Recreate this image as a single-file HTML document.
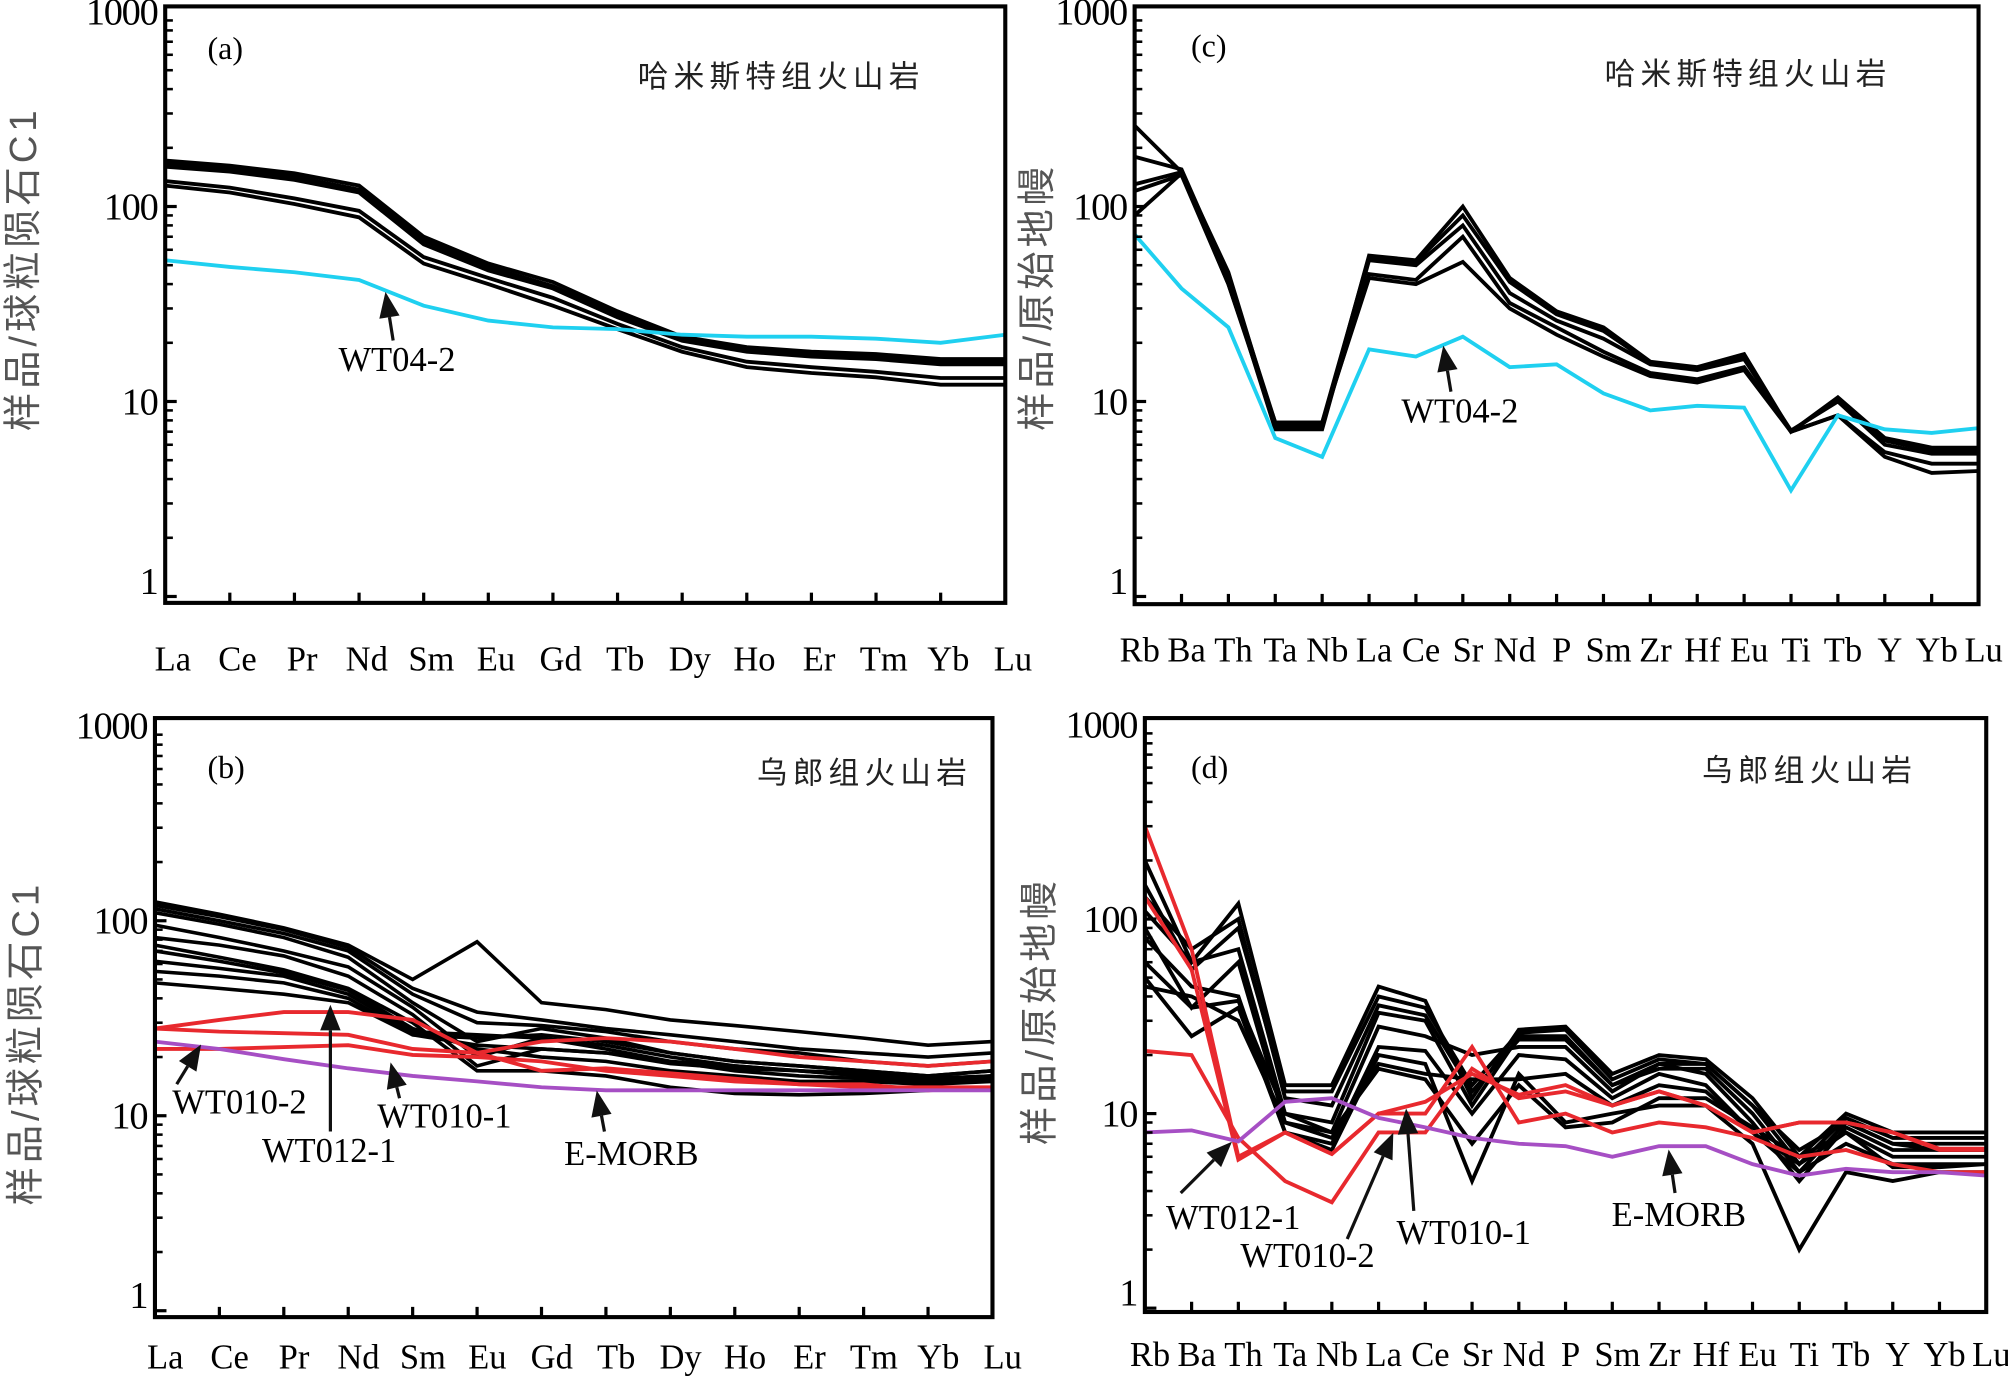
<!DOCTYPE html>
<html><head><meta charset="utf-8"><style>
html,body{margin:0;padding:0;background:#fff;}
svg{display:block;}
text{font-family:"Liberation Serif","Noto Serif CJK SC",serif;}
.cjk{font-family:"Liberation Sans","Noto Sans CJK SC",sans-serif;}
</style></head><body>
<svg id="fig" xmlns="http://www.w3.org/2000/svg" width="2008" height="1376" viewBox="0 0 1568 1075" preserveAspectRatio="none"></svg>
<script>
const reeLabels=["La","Ce","Pr","Nd","Sm","Eu","Gd","Tb","Dy","Ho","Er","Tm","Yb","Lu"];
const pmLabels=["Rb","Ba","Th","Ta","Nb","La","Ce","Sr","Nd","P","Sm","Zr","Hf","Eu","Ti","Tb","Y","Yb","Lu"];
const yTickLabels=["1","10","100","1000"];
const aBlack=[
[172,162,148,128,70,51,41,29,21.5,19,18,17.5,16.5,16.5],
[166,156,142,122,67,49,39,28,21,18.5,17.5,17,16,16],
[160,151,137,118,64,47,38,27,20.5,18,17,16.5,15.5,15.5],
[135,125,110,95,55,43,34,25,19,16,15,14.2,13.2,13.2],
[128,118,103,88,51,40,31,23.5,18,15,14,13.3,12.2,12.2]];
const aCyan=[53,49,46,42,31,26,24,23.5,22,21.5,21.5,21,20,22];
const cBlack=[
[260,150,46,7.5,7.5,56,53,100,43,29,24,16,15,17.5,7,10.5,6.5,5.8,5.8],
[180,155,44,7.8,7.8,55,52,90,41,28,23,15.8,14.8,17,7,10.3,6.3,5.6,5.6],
[130,150,42,7.2,7.2,53,50,80,36,26,21,15.5,14.5,16.5,7.1,10,6,5.4,5.4],
[120,145,40,7.6,7.6,45,42,70,32,24,18,14,13,15,7,8.5,5.5,4.8,4.8],
[90,148,40,7.8,7.8,43,40,52,30,22,17,13.5,12.5,14.5,7,8.5,5.2,4.3,4.4]];
const cCyan=[72,38,24,6.5,5.2,18.5,17,21.5,15,15.5,11,9,9.5,9.3,3.5,8.5,7.2,6.9,7.3];
const bBlack=[
[125,108,92,75,50,78,38,35,31,29,27,25,23,24],
[120,105,90,73,45,34,31,28,26,24,22,21,20,21],
[115,100,86,70,42,30,29,27,24,22,21,19,18,19],
[110,96,82,65,38,24,28,25,21,19,18,17,16,17],
[95,82,70,58,36,20,25,23,20,18,17,16,15.5,16],
[82,75,66,52,33,18,22,21,19,17,16,15.5,15,15.5],
[75,65,56,45,30,17,17,16,14,13,12.8,13,13.5,14],
[70,62,54,44,28,22,20,19,17,16,15,15,14.5,15],
[62,57,52,42,27,26,25,22,19,18,17,16,15,16],
[55,52,48,40,26,25,26,24,21,19,18,17,16,17],
[48,45,42,38,26,23,22,21,18.5,17.5,17,16.5,15.5,16]];
const bRed=[
[28,31,34,34,31,21,24,25,24,22,20,19,18,19],
[28,27,26.5,26,22,21,17,17.5,16.5,15.5,14.5,14.5,13.5,14],
[22,22,22.5,23,20.5,20,19,17,16,15,14.5,14,14,14]];
const bPurple=[24,22,19.5,17.5,16,15,14,13.5,13.5,13.5,13.5,13.5,13.5,13.5];
const dBlack=[
[200,60,120,14,14,45,38,12,27,28,16,20,19,12,6,10,8,8,8],
[150,55,90,13,13,40,35,14,26,27,15,19,18,11,5.5,9.5,7.5,7.5,7.5],
[110,60,70,10,9,33,30,11,25,25,14,17,17,10,5,9,7,7,7],
[90,35,60,9,8,28,25,20,22,22,13,18,16,9,4.5,8.5,6.5,6.5,6.5],
[80,45,40,8,7,22,21,10,20,19,12,16,14,8,5.5,8,6,6,6],
[50,25,35,8,6.5,20,18,4.5,16,9,10,11,11,7,2,5,4.5,5,5],
[45,40,30,9,7.5,18,16,15,15,16,11,14,13,8,5,7,5.5,5.5,5.5],
[60,35,38,10,8,17,15,7,14,8.5,9,12,12,8.5,6,8,5.3,5.3,5.5],
[130,70,100,12,11,36,32,13,24,24,14,18,18,11,6.5,9,7,6.5,6.5]];
const dRed=[
[300,70,6,8,6.2,10,10,22,9,10,8,9,8.5,7.5,6,6.5,5.5,5,5],
[130,55,5.8,8,6.2,10,11.5,16,12.5,14,11,13,11,8,9,9,8,6.6,6.6],
[21,20,7.5,4.5,3.5,8,8,17,12,13,11,13,11,8,9,9,8,6.5,6.5]];
const dPurple=[8,8.2,7.2,11.5,12,9.5,8.5,7.5,7,6.8,6,6.8,6.8,5.5,4.8,5.2,5,5,4.8];

const NS="http://www.w3.org/2000/svg";
const svg=document.getElementById('fig');
function mk(tag,attrs,parent){const e=document.createElementNS(NS,tag);for(const k in attrs)e.setAttribute(k,attrs[k]);(parent||svg).appendChild(e);return e;}

function panel(cfg){
  const g=mk('g',{});
  
  
  const n=cfg.labels.length;
  const xs=i=>cfg.x0+i*(cfg.x1-cfg.x0)/(n-1);
  const ys=v=>cfg.yb-(Math.log10(v))*(cfg.yb-cfg.yt)/3;
  cfg.series.forEach(s=>{s[0].forEach(vals=>{const p=mk('polyline',{points:vals.map((v,i)=>xs(i)+','+ys(v)).join(' '),fill:'none',stroke:s[1],'stroke-width':s[2],'stroke-linejoin':'miter'},g);
    
    });});
  const fr=mk('rect',{x:cfg.x0,y:cfg.top,width:cfg.x1-cfg.x0,height:cfg.bot-cfg.top,fill:'none',stroke:'#000','stroke-width':3.2},g);
  
  
  for(let d=0;d<3;d++){for(let m=1;m<=9;m++){const v=m*Math.pow(10,d);const y=ys(v);
    mk('line',{x1:cfg.x0,x2:cfg.x0+(m===1?9:6),y1:y,y2:y,stroke:'#000','stroke-width':m===1?2.5:2},g);}}
  yTickLabels.forEach((t,i)=>{const tx=mk('text',{x:cfg.x0-6,y:ys(Math.pow(10,i))+(i===0?-2:10),'text-anchor':'end','font-size':30,'letter-spacing':-1},g);tx.textContent=t;
    
    });
  cfg.labels.forEach((l,i)=>{const x=xs(i);
    if(i>0&&i<n-1) mk('line',{x1:x,x2:x,y1:cfg.bot,y2:cfg.bot-8,stroke:'#000','stroke-width':2.5},g);
    const tx=mk('text',{x:x+cfg.lx,y:cfg.ly,'text-anchor':'middle','font-size':cfg.lfs},g);tx.textContent=l;
    
    });
  const pl=mk('text',{x:cfg.plx,y:cfg.ply,'font-size':25},g);pl.textContent=cfg.plabel;
  
  
  const ti=mk('text',{x:cfg.tx,y:cfg.ty,'font-size':24,'text-anchor':'middle','letter-spacing':4,fill:'#222',class:'cjk'},g);ti.textContent=cfg.title;
  
  
  const yt=mk('text',{x:0,y:0,'font-size':30,'text-anchor':'middle',fill:'#555',class:'cjk','letter-spacing':3,transform:`translate(${cfg.ytx},${cfg.yty}) rotate(-90)`},g);yt.textContent=cfg.ytitle;
  
  
  return g;
}
function ann(txt,tx,ty,x1,y1,x2,y2){
  const t=mk('text',{x:tx,y:ty,'font-size':27,'text-anchor':'middle'});t.textContent=txt;
  
  
  const ang=Math.atan2(y2-y1,x2-x1);const L=20,W=8;
  const bx=x2-L*Math.cos(ang),by=y2-L*Math.sin(ang);
  const l=mk('line',{x1:x1,y1:y1,x2:bx,y2:by,stroke:'#111','stroke-width':2.5});
  
  
  const h=mk('polygon',{points:`${x2},${y2} ${bx+W*Math.sin(ang)},${by-W*Math.cos(ang)} ${bx-W*Math.sin(ang)},${by+W*Math.cos(ang)}`,fill:'#111'});
  
  
}
const YT1='样品/球粒陨石C1',YT2='样品/原始地幔';
panel({name:'panel-a',labels:reeLabels,x0:129,x1:785,top:5,bot:471,yt:9,yb:466,lx:6,ly:524,lfs:27,plabel:'(a)',plx:162,ply:46,title:'哈米斯特组火山岩',tx:610,ty:68,ytitle:YT1,ytx:28,yty:210,
  series:[[aBlack,'#000',3,'sample-line'],[[aCyan],'#1fd0f0',3,'wt04-2-line']]});
panel({name:'panel-c',labels:pmLabels,x0:886,x1:1545,top:5,bot:472,yt:9,yb:466,lx:4,ly:517,lfs:27,plabel:'(c)',plx:930,ply:44,title:'哈米斯特组火山岩',tx:1365,ty:66,ytitle:YT2,ytx:820,yty:232,
  series:[[cBlack,'#000',3,'sample-line'],[[cCyan],'#1fd0f0',3,'wt04-2-line']]});
panel({name:'panel-b',labels:reeLabels,x0:121,x1:775,top:561,bot:1029,yt:567,yb:1024,lx:8,ly:1069,lfs:27,plabel:'(b)',plx:162,ply:608,title:'乌郎组火山岩',tx:675,ty:612,ytitle:YT1,ytx:30,yty:815,
  series:[[bBlack,'#000',2.8,'sample-line'],[bRed,'#e8292e',3,'red-sample-line'],[[bPurple],'#a64fc4',3,'e-morb-line']]});
panel({name:'panel-d',labels:pmLabels,x0:894,x1:1551,top:561,bot:1025,yt:566,yb:1022,lx:4,ly:1067,lfs:27,plabel:'(d)',plx:930,ply:608,title:'乌郎组火山岩',tx:1413,ty:610,ytitle:YT2,ytx:822,yty:790,
  series:[[dBlack,'#000',3,'sample-line'],[dRed,'#e8292e',3,'red-sample-line'],[[dPurple],'#a64fc4',3,'e-morb-line']]});
ann('WT04-2',310,290,307,266,301,228);
ann('WT04-2',1140,330,1133,306,1127,270);
ann('WT010-2',187,870,138,847,157,816);
ann('WT012-1',257,908,258,884,258,785);
ann('WT010-1',347,881,312,858,305,830);
ann('E-MORB',493,910,472,884,466,852);
ann('WT012-1',963,960,922,932,962,892);
ann('WT010-2',1021,990,1052,968,1088,885);
ann('WT010-1',1143,972,1104,946,1098,866);
ann('E-MORB',1311,958,1308,932,1303,898);
</script>
</body></html>
